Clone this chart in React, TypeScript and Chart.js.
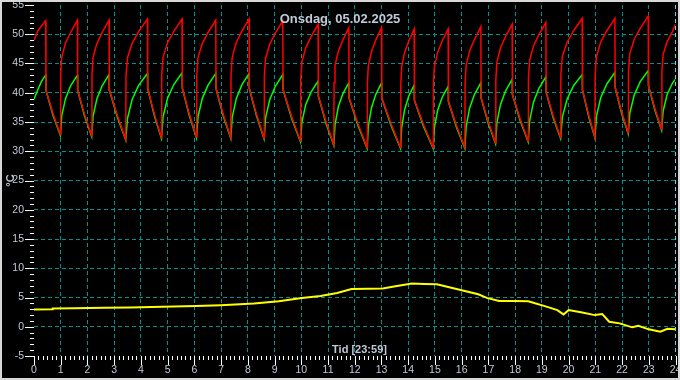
import React, { useEffect, useRef } from 'react';
import { Chart, registerables } from 'chart.js';

Chart.register(...registerables);

const TITLE = 'Onsdag, 05.02.2025';
const X_TITLE = 'Tid [23:59]';
const Y_TITLE = '°C';

const X_MIN = 0;
const X_MAX = 24;
const Y_MIN = -5;
const Y_MAX = 55;
const X_STEP = 1;
const Y_STEP = 5;

// Red series [hour, °C]
const RED: [number, number][] = [
  [0, 49.0], [0.15, 50.6], [0.277, 51.4], [0.4, 52.1], [0.438, 52.3],
  [0.448, 40.4], [0.713, 36.4], [0.988, 32.8],
  [0.998, 43.2], [1.039, 46.1], [1.179, 48.5], [1.37, 50.3], [1.624, 52.4],
  [1.634, 40.4], [1.892, 36.3], [2.159, 32.6],
  [2.169, 43.1], [2.211, 46.1], [2.354, 48.4], [2.548, 50.3], [2.807, 52.4],
  [2.817, 40.5], [3.119, 36.1], [3.432, 32.0],
  [3.442, 42.9], [3.497, 46.0], [3.675, 48.5], [3.919, 50.5], [4.244, 52.6],
  [4.254, 40.7], [4.506, 36.3], [4.768, 32.3],
  [4.778, 43.1], [4.83, 46.1], [4.999, 48.6], [5.231, 50.5], [5.539, 52.6],
  [5.549, 40.8], [5.808, 36.4], [6.078, 32.4],
  [6.088, 43.0], [6.135, 46.0], [6.295, 48.4], [6.511, 50.3], [6.8, 52.4],
  [6.81, 40.7], [7.081, 36.3], [7.362, 32.3],
  [7.372, 43.1], [7.416, 46.1], [7.567, 48.6], [7.772, 50.5], [8.046, 52.6],
  [8.056, 40.7], [8.327, 36.3], [8.608, 32.2],
  [8.618, 42.9], [8.664, 45.9], [8.818, 48.3], [9.028, 50.2], [9.308, 52.3],
  [9.318, 40.5], [9.639, 35.9], [9.97, 31.7],
  [9.98, 42.3], [10.023, 45.3], [10.168, 47.7], [10.365, 49.6], [10.629, 51.7],
  [10.639, 39.4], [10.923, 35.1], [11.216, 31.1],
  [11.226, 41.7], [11.261, 44.7], [11.385, 47.1], [11.553, 49.0], [11.778, 51.1],
  [11.788, 39.1], [12.12, 34.7], [12.463, 30.6],
  [12.473, 41.5], [12.506, 44.5], [12.624, 47.0], [12.786, 49.0], [13.001, 51.1],
  [13.011, 39.1], [13.357, 34.7], [13.713, 30.6],
  [13.723, 41.4], [13.754, 44.4], [13.865, 46.9], [14.018, 48.8], [14.222, 50.9],
  [14.232, 38.7], [14.577, 34.5], [14.933, 30.6],
  [14.943, 41.4], [14.978, 44.4], [15.101, 46.9], [15.269, 48.8], [15.494, 50.9],
  [15.504, 38.5], [15.806, 34.4], [16.119, 30.6],
  [16.129, 41.6], [16.167, 44.7], [16.299, 47.2], [16.478, 49.1], [16.718, 51.3],
  [16.728, 39.1], [16.993, 35.1], [17.268, 31.4],
  [17.278, 42.2], [17.318, 45.2], [17.454, 47.7], [17.641, 49.6], [17.889, 51.7],
  [17.899, 39.7], [18.189, 35.5], [18.488, 31.7],
  [18.498, 42.5], [18.541, 45.5], [18.687, 48.0], [18.885, 49.9], [19.151, 52.0],
  [19.161, 40.1], [19.426, 36.0], [19.701, 32.3],
  [19.711, 43.1], [19.765, 46.2], [19.943, 48.6], [20.186, 50.6], [20.509, 52.7],
  [20.519, 40.5], [20.747, 36.3], [20.984, 32.4],
  [20.994, 43.2], [21.044, 46.2], [21.205, 48.7], [21.432, 50.6], [21.733, 52.7],
  [21.743, 40.9], [21.982, 36.8], [22.231, 33.1],
  [22.241, 43.7], [22.29, 46.7], [22.455, 49.1], [22.68, 51.0], [22.979, 53.1],
  [22.989, 41.2], [23.23, 37.3], [23.481, 33.7],
  [23.491, 43.7], [23.535, 46.5], [23.686, 48.7], [23.892, 50.5], [24.0, 51.8],
];

// Green series [hour, °C]
const GREEN: [number, number][] = [
  [0, 38.9], [0.15, 40.6], [0.277, 41.9], [0.4, 42.8], [0.438, 43.0],
  [0.448, 40.4], [0.713, 36.1], [0.988, 32.7],
  [1.039, 36.1], [1.179, 39.0], [1.37, 41.2], [1.624, 43.0],
  [1.634, 40.4], [1.892, 36.0], [2.159, 32.5],
  [2.211, 36.0], [2.354, 39.0], [2.548, 41.2], [2.807, 43.1],
  [2.817, 40.5], [3.119, 35.8], [3.432, 31.9],
  [3.497, 35.6], [3.675, 38.9], [3.919, 41.3], [4.244, 43.3],
  [4.254, 40.7], [4.506, 36.0], [4.768, 32.2],
  [4.83, 35.9], [4.999, 39.1], [5.231, 41.4], [5.539, 43.4],
  [5.549, 40.8], [5.808, 36.1], [6.078, 32.3],
  [6.135, 35.9], [6.295, 39.0], [6.511, 41.3], [6.8, 43.3],
  [6.81, 40.7], [7.081, 36.0], [7.362, 32.2],
  [7.416, 35.8], [7.567, 39.0], [7.772, 41.3], [8.046, 43.3],
  [8.056, 40.7], [8.327, 36.0], [8.608, 32.1],
  [8.664, 35.7], [8.818, 38.8], [9.028, 41.1], [9.308, 43.1],
  [9.318, 40.5], [9.639, 35.6], [9.97, 31.6],
  [10.023, 35.0], [10.168, 38.0], [10.365, 40.1], [10.629, 42.0],
  [10.639, 39.4], [10.923, 34.8], [11.216, 31.0],
  [11.261, 34.5], [11.385, 37.6], [11.553, 39.8], [11.778, 41.7],
  [11.788, 39.1], [12.12, 34.4], [12.463, 30.5],
  [12.506, 34.2], [12.624, 37.4], [12.786, 39.7], [13.001, 41.7],
  [13.011, 39.1], [13.357, 34.4], [13.713, 30.5],
  [13.754, 34.0], [13.865, 37.1], [14.018, 39.4], [14.222, 41.3],
  [14.232, 38.7], [14.577, 34.2], [14.933, 30.5],
  [14.978, 34.0], [15.101, 37.0], [15.269, 39.2], [15.494, 41.1],
  [15.504, 38.5], [15.806, 34.1], [16.119, 30.5],
  [16.167, 34.2], [16.299, 37.4], [16.478, 39.7], [16.718, 41.7],
  [16.728, 39.1], [16.993, 34.8], [17.268, 31.3],
  [17.318, 34.9], [17.454, 38.0], [17.641, 40.3], [17.889, 42.3],
  [17.899, 39.7], [18.189, 35.2], [18.488, 31.6],
  [18.541, 35.2], [18.687, 38.4], [18.885, 40.7], [19.151, 42.7],
  [19.161, 40.1], [19.426, 35.7], [19.701, 32.2],
  [19.765, 35.8], [19.943, 38.9], [20.186, 41.2], [20.509, 43.1],
  [20.519, 40.5], [20.747, 36.0], [20.984, 32.3],
  [21.044, 36.0], [21.205, 39.2], [21.432, 41.5], [21.733, 43.5],
  [21.743, 40.9], [21.982, 36.5], [22.231, 33.0],
  [22.29, 36.5], [22.455, 39.6], [22.68, 41.9], [22.979, 43.8],
  [22.989, 41.2], [23.23, 37.0], [23.481, 33.6],
  [23.535, 36.8], [23.686, 39.7], [23.892, 41.7], [24.0, 42.3],
];

// Yellow series [hour, °C]
const YELLOW: [number, number][] = [
  [0, 2.96], [0.69, 2.98], [0.7, 3.13], [1.5, 3.15], [2.64, 3.23], [3.6, 3.3],
  [4.81, 3.4], [6.06, 3.55], [6.99, 3.69], [8.23, 3.97], [9.16, 4.37],
  [10.02, 4.93], [10.72, 5.27], [11.34, 5.78], [11.88, 6.46], [12.5, 6.5],
  [13.05, 6.53], [13.52, 6.92], [14.14, 7.38], [14.6, 7.3], [15.07, 7.26],
  [15.38, 6.92], [16.0, 6.24], [16.62, 5.56], [16.94, 4.93], [17.4, 4.42],
  [18.0, 4.4], [18.49, 4.37], [18.65, 4.15], [19.11, 3.52], [19.58, 2.84],
  [19.81, 2.11], [20.0, 2.84], [20.51, 2.45], [20.98, 1.99], [21.26, 2.16],
  [21.52, 0.85], [21.91, 0.58], [22.38, -0.1], [22.61, 0.17], [23.0, -0.44],
  [23.43, -0.85], [23.7, -0.34], [24.0, -0.44],
];

const toXY = (arr: [number, number][]) => arr.map(([x, y]) => ({ x, y }));

const LABEL_COLOR = '#c0cad8';
const GRID_COLOR = '#009090';
const EDGE_GRID_COLOR = '#55ddee';

const decorPlugin = {
  id: 'decor',
  beforeDraw(chart: any) {
    const { ctx, width, height } = chart;
    ctx.save();
    ctx.fillStyle = '#000000';
    ctx.fillRect(0, 0, width, height);
    ctx.restore();
  },
  afterDraw(chart: any) {
    const { ctx, chartArea: area } = chart;
    const xs = chart.scales.x;
    const ys = chart.scales.y;
    ctx.save();
    ctx.strokeStyle = '#ffffff';
    ctx.lineWidth = 1;
    ctx.beginPath();
    for (let v = Y_MIN; v <= Y_MAX; v += 1) {
      const y = Math.round(ys.getPixelForValue(v)) + 0.5;
      const major = v % 5 === 0;
      ctx.moveTo(major ? 25 : 30, y);
      ctx.lineTo(Math.round(area.left), y);
    }
    for (let i = 0; i <= (X_MAX - X_MIN) * 6; i++) {
      const x = Math.round(xs.getPixelForValue(X_MIN + i / 6)) + 0.5;
      const major = i % 6 === 0;
      ctx.moveTo(x, Math.round(area.bottom));
      ctx.lineTo(x, Math.round(area.bottom) + (major ? 9 : 4));
    }
    ctx.stroke();

    ctx.fillStyle = LABEL_COLOR;
    ctx.font = 'bold 13px "Liberation Sans", Arial, sans-serif';
    ctx.textAlign = 'center';
    ctx.textBaseline = 'alphabetic';
    ctx.fillText(TITLE, chart.width / 2, 23);

    ctx.font = 'bold 11px "Liberation Sans", Arial, sans-serif';
    ctx.fillText(X_TITLE, 359.5, 353);

    ctx.save();
    ctx.translate(11, (area.top + area.bottom) / 2);
    ctx.rotate(-Math.PI / 2);
    ctx.font = 'bold 11px "Liberation Sans", Arial, sans-serif';
    ctx.textBaseline = 'middle';
    ctx.fillText(Y_TITLE, 0, 0);
    ctx.restore();

    ctx.strokeStyle = '#d8d8d8';
    ctx.lineWidth = 2;
    ctx.strokeRect(1, 1, chart.width - 2, chart.height - 2);
    ctx.restore();
  },
};

export default function App() {
  const ref = useRef<HTMLCanvasElement | null>(null);

  useEffect(() => {
    document.body.style.margin = '0';
    const canvas = ref.current;
    if (!canvas) return;
    const chart = new Chart(canvas, {
      type: 'line',
      data: {
        datasets: [
          {
            label: 'red',
            data: toXY(RED),
            borderColor: '#ff0000',
            borderWidth: 1.5,
            pointRadius: 0,
            tension: 0,
          },
          {
            label: 'green',
            data: toXY(GREEN),
            borderColor: '#00ff00',
            borderWidth: 1.5,
            pointRadius: 0,
            tension: 0,
          },
          {
            label: 'yellow',
            data: toXY(YELLOW),
            borderColor: '#ffff00',
            borderWidth: 2,
            pointRadius: 0,
            tension: 0,
          },
        ],
      },
      options: {
        animation: false,
        responsive: false,
        devicePixelRatio: 1,
        layout: { padding: { left: 0, right: 4.5, top: 5, bottom: 0 } },
        plugins: {
          legend: { display: false },
          tooltip: { enabled: false },
          title: { display: false },
        },
        events: [],
        scales: {
          x: {
            type: 'linear',
            min: X_MIN,
            max: X_MAX,
            border: { display: false, dash: [4, 3] },
            grid: {
              drawTicks: false,
              lineWidth: 1,
              color: (c: any) => {
                const v = c.tick ? c.tick.value : 0;
                if (v === X_MIN) return 'rgba(0,0,0,0)';
                if (v === X_MAX) return EDGE_GRID_COLOR;
                return GRID_COLOR;
              },
            },
            ticks: {
              stepSize: X_STEP,
              autoSkip: false,
              maxRotation: 0,
              padding: 8,
              color: LABEL_COLOR,
              font: { family: '"Liberation Sans", Arial, sans-serif', size: 10.5 },
            },
            afterFit: (s: any) => {
              s.height = 24;
              s.paddingLeft = 0;
              s.paddingRight = 0;
            },
          },
          y: {
            type: 'linear',
            min: Y_MIN,
            max: Y_MAX,
            border: { display: false, dash: [4, 3] },
            grid: {
              drawTicks: false,
              lineWidth: 1,
              color: (c: any) => {
                const v = c.tick ? c.tick.value : 0;
                if (v === Y_MIN || v === Y_MAX) return 'rgba(0,0,0,0)';
                return GRID_COLOR;
              },
            },
            ticks: {
              stepSize: Y_STEP,
              autoSkip: false,
              padding: 10,
              color: LABEL_COLOR,
              font: { family: '"Liberation Sans", Arial, sans-serif', size: 10.5 },
            },
            afterFit: (s: any) => {
              s.width = 34;
              s.paddingTop = 0;
              s.paddingBottom = 0;
            },
          },
        },
      },
      plugins: [decorPlugin],
    });
    return () => chart.destroy();
  }, []);

  return (
    <div style={{ width: 680, height: 380 }}>
      <canvas ref={ref} width={680} height={380} style={{ display: 'block' }} />
    </div>
  );
}
